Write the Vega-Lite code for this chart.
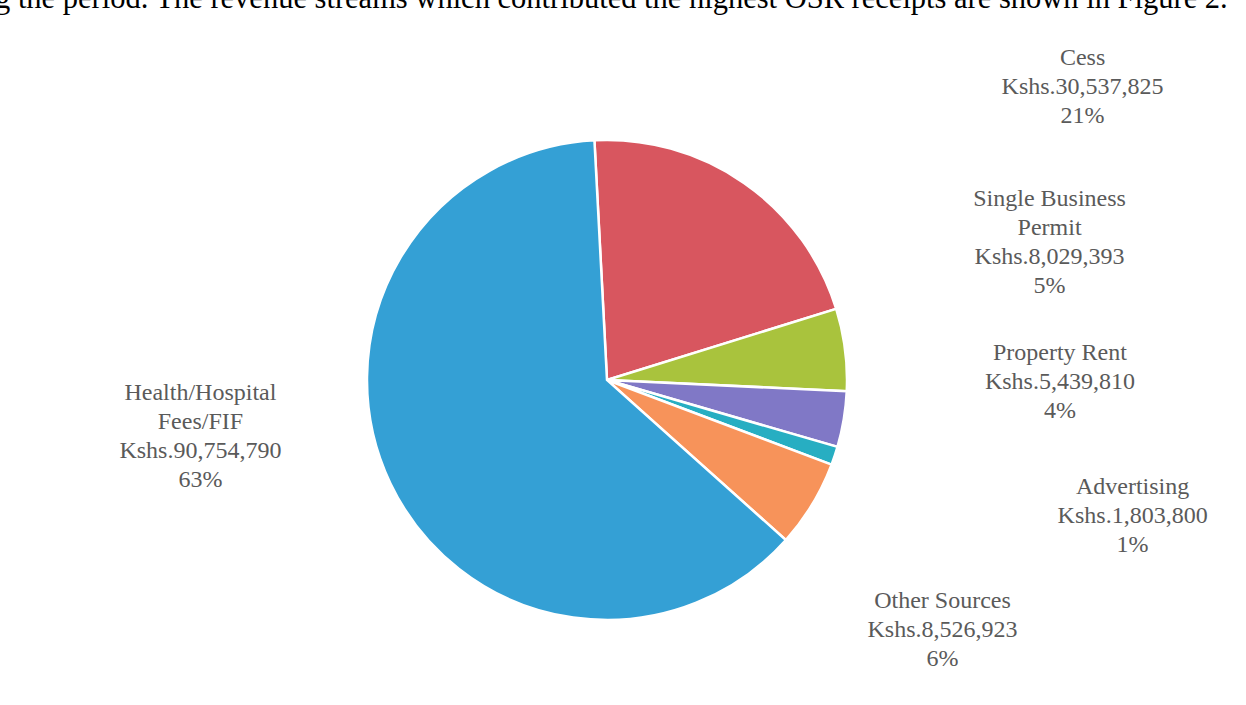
{
  "$schema": "https://vega.github.io/schema/vega-lite/v6.json",
  "autosize": {"type": "none"},
  "width": 1214,
  "height": 650,
  "padding": {"top": 55, "left": 0, "right": 32, "bottom": 0},
  "background": "white",
  "title": {
    "text": "g the period. The revenue streams which contributed the highest OSR receipts are shown in Figure 2.",
    "anchor": "start",
    "frame": "group",
    "orient": "top",
    "baseline": "alphabetic",
    "offset": 0,
    "dy": 60,
    "dx": -5,
    "font": "Liberation Serif",
    "fontSize": 30.5,
    "fontWeight": "normal",
    "color": "#000000"
  },
  "data": {
    "values": [
      {"idx": 1, "name": "Cess", "amount": 30537825, "label": ["Cess", "Kshs.30,537,825", "21%"]},
      {"idx": 2, "name": "Single Business Permit", "amount": 8029393, "label": ["Single Business", "Permit", "Kshs.8,029,393", "5%"]},
      {"idx": 3, "name": "Property Rent", "amount": 5439810, "label": ["Property Rent", "Kshs.5,439,810", "4%"]},
      {"idx": 4, "name": "Advertising", "amount": 1803800, "label": ["Advertising", "Kshs.1,803,800", "1%"]},
      {"idx": 5, "name": "Other Sources", "amount": 8526923, "label": ["Other Sources", "Kshs.8,526,923", "6%"]},
      {"idx": 6, "name": "Health/Hospital Fees/FIF", "amount": 90754790, "label": ["Health/Hospital", "Fees/FIF", "Kshs.90,754,790", "63%"]}
    ]
  },
  "encoding": {
    "theta": {"field": "amount", "type": "quantitative", "stack": true, "scale": {"range": [-0.0524, 6.2308]}},
    "order": {"field": "idx", "type": "quantitative"}
  },
  "layer": [
    {
      "mark": {"type": "arc", "outerRadius": 240, "stroke": "white", "strokeWidth": 2.5},
      "encoding": {
        "color": {
          "field": "name", "type": "nominal", "legend": null,
          "scale": {
            "domain": ["Cess", "Single Business Permit", "Property Rent", "Advertising", "Other Sources", "Health/Hospital Fees/FIF"],
            "range": ["#D8565F", "#A9C33D", "#8078C6", "#27AEC2", "#F7935A", "#34A0D5"]
          }
        }
      }
    },
    {
      "mark": {"type": "text", "radius": 300, "dx": 304, "dy": -76, "font": "Liberation Serif", "fontSize": 24, "lineHeight": 29, "color": "#5a5a5a", "align": "center", "baseline": "middle"},
      "encoding": {"text": {"condition": {"test": "datum.idx == 1", "field": "label"}, "value": ""}}
    },
    {
      "mark": {"type": "text", "radius": 300, "dx": 145, "dy": -143, "font": "Liberation Serif", "fontSize": 24, "lineHeight": 29, "color": "#5a5a5a", "align": "center", "baseline": "middle"},
      "encoding": {"text": {"condition": {"test": "datum.idx == 2", "field": "label"}, "value": ""}}
    },
    {
      "mark": {"type": "text", "radius": 300, "dx": 157, "dy": -76, "font": "Liberation Serif", "fontSize": 24, "lineHeight": 29, "color": "#5a5a5a", "align": "center", "baseline": "middle"},
      "encoding": {"text": {"condition": {"test": "datum.idx == 3", "field": "label"}, "value": ""}}
    },
    {
      "mark": {"type": "text", "radius": 300, "dx": 241, "dy": 12, "font": "Liberation Serif", "fontSize": 24, "lineHeight": 29, "color": "#5a5a5a", "align": "center", "baseline": "middle"},
      "encoding": {"text": {"condition": {"test": "datum.idx == 4", "field": "label"}, "value": ""}}
    },
    {
      "mark": {"type": "text", "radius": 300, "dx": 79, "dy": 65, "font": "Liberation Serif", "fontSize": 24, "lineHeight": 29, "color": "#5a5a5a", "align": "center", "baseline": "middle"},
      "encoding": {"text": {"condition": {"test": "datum.idx == 5", "field": "label"}, "value": ""}}
    },
    {
      "mark": {"type": "text", "radius": 300, "dx": -136, "dy": -117, "font": "Liberation Serif", "fontSize": 24, "lineHeight": 29, "color": "#5a5a5a", "align": "center", "baseline": "middle"},
      "encoding": {"text": {"condition": {"test": "datum.idx == 6", "field": "label"}, "value": ""}}
    }
  ],
  "config": {"view": {"stroke": null}}
}
